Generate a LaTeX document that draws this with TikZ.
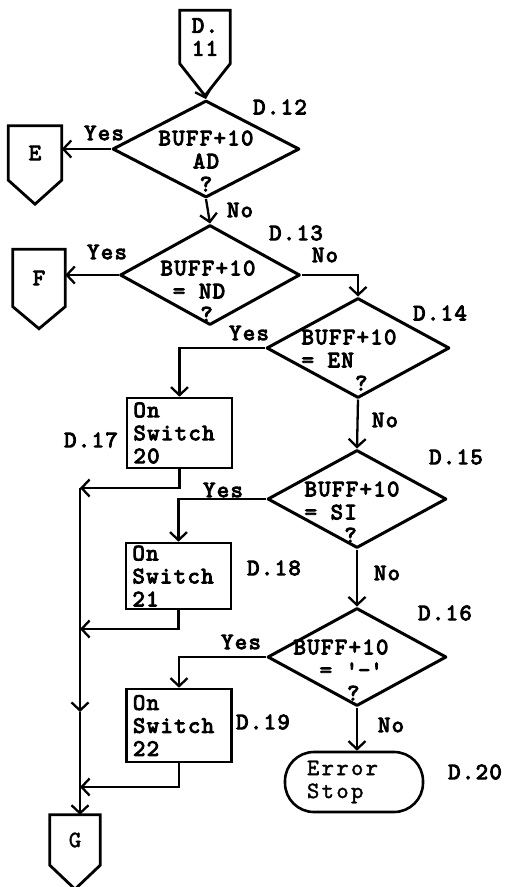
\documentclass[tikz,border=0pt]{standalone}
\usepackage{fontspec}
\newfontfamily\typew{lmmono10-regular.otf}[AutoFakeBold=4, LetterSpace=6]
\newfontfamily\typer{lmmono10-regular.otf}[AutoFakeBold=1.5, LetterSpace=10]
\usetikzlibrary{shapes.geometric,arrows.meta}
\begin{document}
\begin{tikzpicture}[x=1pt,y=-1pt,
  bfont/.style={font=\typew\bfseries\fontsize{23.5}{23}\selectfont},
  rfont/.style={font=\typer\bfseries\fontsize{23.5}{23}\selectfont},
  dia/.style={draw, diamond, line width=3pt, line join=round, inner sep=0pt},
  dtxt/.style={bfont, inner sep=0pt},
  lbl/.style={bfont, inner sep=0pt},
  proc/.style={draw, rectangle, line width=2.6pt, align=left, text width=92pt,
    inner xsep=6.5pt, inner ysep=1pt, font=\typew\bfseries\fontsize{23.5}{23}\selectfont},
  pent/.style={line width=2.8pt, line join=miter},
  ptxt/.style={bfont, inner sep=0pt, align=center},
  conn/.style={line width=2.3pt, -{Straight Barb[length=8pt,width=17pt]}},
]
\useasboundingbox (0,0) rectangle (505,887);

% off-page connectors
\node[ptxt, minimum width=50pt, minimum height=53pt] (d11) at (205,37) {D.\\11};
\draw[pent] (d11.north west) -- (d11.north east) -- (d11.south east)
  -- ([yshift=-32pt]d11.south) coordinate (d11tip) -- (d11.south west) -- cycle;

\node[ptxt, minimum width=53pt, minimum height=54pt] (e) at (35,153) {E};
\draw[pent] (e.north west) -- (e.north east) -- (e.south east)
  -- ([yshift=-24pt]e.south) -- (e.south west) -- cycle;

\node[ptxt, minimum width=52pt, minimum height=57pt] (f) at (39,278) {F};
\draw[pent] (f.north west) -- (f.north east) -- (f.south east)
  -- ([yshift=-22pt]f.south) -- (f.south west) -- cycle;

\node[rfont, inner sep=0pt, minimum width=50pt, minimum height=50pt] (g) at (75,840) {G};
\draw[pent] (g.north west) -- (g.north east) -- (g.south east)
  -- ([yshift=-24pt]g.south) -- (g.south west) -- cycle;

% decisions
\node[dia, minimum width=187pt, minimum height=97pt] (d12) at (206,149) {};
\node[dtxt, align=center] (d12t) at (206,161) {BUFF+10\\AD\\?};
\node[lbl] (l12) at (280,107) {D.12};

\node[dia, minimum width=180pt, minimum height=100pt] (d13) at (210,275) {};
\node[dtxt, align=left] (d13t) at (208,291) {BUFF+10\\\hphantom{B}= ND\\\hphantom{BUF}?};
\node[lbl] (l13) at (296,233) {D.13};

\node[dia, minimum width=183pt, minimum height=100pt] (d14) at (358,348) {};
\node[dtxt, align=left] (d14t) at (349,360) {BUFF+10\\= EN\\\hphantom{BUFF}?};
\node[lbl] (l14) at (440,313) {D.14};

\node[dia, minimum width=179pt, minimum height=98pt] (d15) at (357,499) {};
\node[dtxt, align=left] (d15t) at (352,512) {BUFF+10\\= SI\\\hphantom{BUF}?};
\node[lbl] (l15) at (456,457) {D.15};

\node[dia, minimum width=179pt, minimum height=98pt] (d16) at (357,657) {};
\node[dtxt, align=left] (d16t) at (341,670) {BUFF+10\\\hphantom{BU}= \textquotesingle-\textquotesingle\\\hphantom{BUFF}?};
\node[lbl] (l16) at (445,613) {D.16};

% processes
\node[proc, minimum height=70pt] (b17) at (179.5,433) {On\\Switch\\20};
\node[lbl] (l17) at (91,440) {D.17};
\node[proc, minimum height=66pt] (b18) at (178.5,576) {On\\Switch\\21};
\node[lbl] (l18) at (274,568) {D.18};
\node[proc, minimum height=73pt] (b19) at (179,725.5) {On\\Switch\\22};
\node[lbl] (l19) at (263,722) {D.19};

% terminal
\node[draw, line width=2.6pt, rounded corners=29pt, minimum width=138pt, minimum height=60pt,
  text width=94pt, inner xsep=0pt, align=left, rfont] (es) at (354,782) {Error\\Stop};
\node[lbl] (l20) at (475,772) {D.20};

% branch labels
\node[lbl] (y12) at (104,133) {Yes};
\node[lbl] (n12) at (240,210) {No};
\node[lbl] (y13) at (107,252) {Yes};
\node[lbl] (n13) at (325,255) {No};
\node[lbl] (y14) at (249,333) {Yes};
\node[lbl] (n14) at (385,420) {No};
\node[lbl] (y15) at (223,490) {Yes};
\node[lbl] (n15) at (387,573) {No};
\node[lbl] (y16) at (241,642) {Yes};
\node[lbl] (n16) at (391,725) {No};

% connectors
\coordinate (j1) at (80,488);
\coordinate (j2) at (80,629);
\coordinate (j3) at (80,787);
\coordinate (jm) at (80,712);

\draw[conn] (d11tip) -- (d12.north);
\draw[conn] (d12.west) -- (e.east |- d12.west);
\draw[conn] (d12.south) -- (d13.north);
\draw[conn] (d13.west) -- (f.east |- d13.west);
\draw[conn] (d13.east) -| (d14.north);
\draw[conn] (d14.west) -| (b17.north);
\draw[conn] (d14.south) -- (d15.north);
\draw[conn] (b17.south) |- (j1);
\draw[conn] (d15.west) -| (b18.north);
\draw[conn] (b18.south) |- (j2);
\draw[conn] (d15.south) -- (d16.north);
\draw[conn] (d16.west) -| (b19.north);
\draw[conn] (b19.south) |- (j3);
\draw[conn] (d16.south) -- (d16.south |- es.north);
\draw[conn] (j1) -- (jm);
\draw[conn] (jm) -- (jm |- g.north);
\end{tikzpicture}
\end{document}
